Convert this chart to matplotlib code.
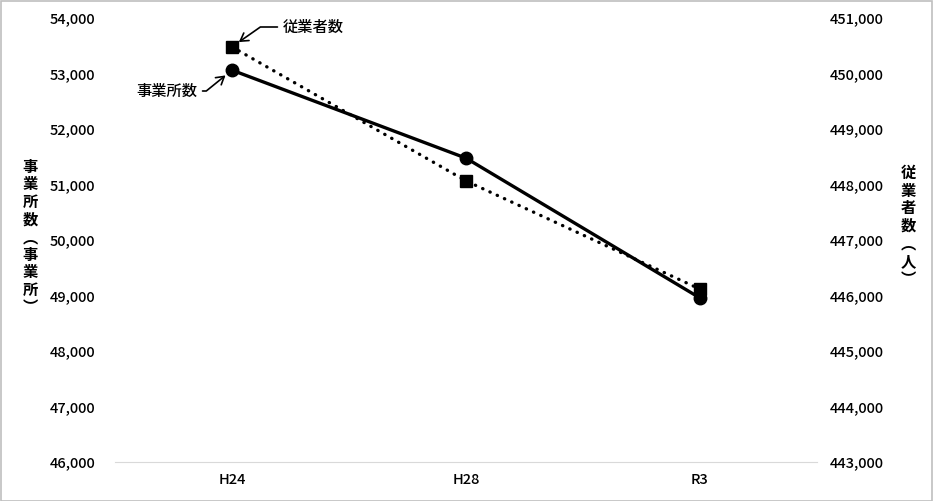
import matplotlib
matplotlib.use("Agg")
import matplotlib.pyplot as plt
from matplotlib.patches import Rectangle
from matplotlib.ticker import FuncFormatter

plt.rcParams['font.family'] = ['Noto Sans CJK JP', 'DejaVu Sans']

# data
years = ['H24', 'H28', 'R3']
establishments = [53060, 51475, 48955]      # 事業所数 (left axis)
employees = [450480, 448065, 446115]        # 従業者数 (right axis)

left_ticks = list(range(46000, 54001, 1000))
right_ticks = list(range(443000, 451001, 1000))

W, H = 933, 501
fig = plt.figure(figsize=(W / 100, H / 100), dpi=100)
ax = fig.add_axes([115 / W, 1 - 462 / H, (817 - 115) / W, (462 - 18) / H])
ax2 = ax.twinx()

x = list(range(len(years)))

ax.plot(x, establishments, color='black', lw=2.4, marker='o', markersize=9, zorder=3)
ax2.plot(x, employees, color='black', lw=2.4, linestyle=(0, (0.1, 2.3)),
         dash_capstyle='round', marker='s', markersize=8.5, zorder=3)

ax.set_xlim(-0.5, 2.5)
ax.set_ylim(46000, 54000)
ax2.set_ylim(443000, 451000)
ax.set_yticks(left_ticks)
ax2.set_yticks(right_ticks)
ax.set_xticks(x)
ax.set_xticklabels(years)

fmt = FuncFormatter(lambda v, p: f'{int(v):,}')
ax.yaxis.set_major_formatter(fmt)
ax2.yaxis.set_major_formatter(fmt)

for a in (ax, ax2):
    for s in a.spines.values():
        s.set_visible(False)
    a.tick_params(length=0, labelsize=10.5)
    for lab in a.get_xticklabels() + a.get_yticklabels():
        lab.set_fontweight('medium')
ax.spines['bottom'].set_visible(True)
ax.spines['bottom'].set_color('#d9d9d9')
ax.tick_params(axis='y', pad=14)
ax2.tick_params(axis='y', pad=9)
ax.tick_params(axis='x', pad=8)

# stacked vertical axis titles
left_title = ['事', '業', '所', '数', '︵', '事', '業', '所', '︶']
right_title = ['従', '業', '者', '数', '︵', '人', '︶']
fig.text(30 / W, 1 - 237 / H, '\n'.join(left_title), ha='center', va='center',
         fontsize=11, fontweight='bold', linespacing=1.12)
fig.text(908 / W, 1 - 226 / H, '\n'.join(right_title), ha='center', va='center',
         fontsize=11, fontweight='bold', linespacing=1.12)

# callouts
ax2.annotate('従業者数', xy=(0, employees[0]), xytext=(283, H - 27),
             textcoords='figure pixels', ha='left', va='center', fontsize=11,
             fontweight='medium',
             arrowprops=dict(arrowstyle='->,head_length=0.5,head_width=0.3',
                             color='black', lw=1.2,
                             connectionstyle='angle,angleA=0,angleB=35',
                             shrinkB=6))
ax.annotate('事業所数', xy=(0, establishments[0]), xytext=(136, H - 91),
            textcoords='figure pixels', ha='left', va='center', fontsize=11,
            fontweight='medium',
            arrowprops=dict(arrowstyle='->,head_length=0.5,head_width=0.3',
                            color='black', lw=1.2,
                            connectionstyle='angle,angleA=0,angleB=39',
                            shrinkB=6))

# light frame round the figure
fig.patches.append(Rectangle((0.5 / W, 0.5 / H), 1 - 1.5 / W, 1 - 1.5 / H,
                             transform=fig.transFigure, fill=False,
                             edgecolor='#bfbfbf', lw=1.2))

fig.savefig('out.png', dpi=100)
